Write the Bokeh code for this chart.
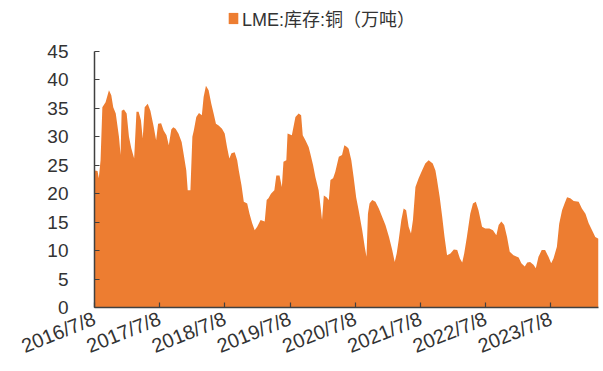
import math
import pandas as pd
from bokeh.plotting import figure
from bokeh.models import Range1d, FixedTicker, Legend, LegendItem, ColumnDataSource
from bokeh.embed import file_html
from bokeh.resources import INLINE

# LME copper inventory (10k tonnes)
dates = [
    "2016-07-08", "2016-07-25", "2016-08-01", "2016-08-11", "2016-08-21", "2016-09-08",
    "2016-09-27", "2016-10-10", "2016-10-21", "2016-11-04", "2016-11-22", "2016-12-01",
    "2016-12-07", "2016-12-20", "2017-01-04", "2017-01-17", "2017-01-30", "2017-02-15",
    "2017-02-28", "2017-03-12", "2017-03-25", "2017-04-04", "2017-04-15", "2017-05-02",
    "2017-05-17", "2017-06-05", "2017-06-18", "2017-06-29", "2017-07-16", "2017-07-30",
    "2017-08-15", "2017-08-28", "2017-09-11", "2017-09-22", "2017-10-05", "2017-10-21",
    "2017-11-08", "2017-11-20", "2017-12-04", "2017-12-12", "2017-12-27", "2018-01-07",
    "2018-01-15", "2018-01-29", "2018-02-13", "2018-03-01", "2018-03-11", "2018-03-24",
    "2018-04-08", "2018-04-23", "2018-05-06", "2018-05-19", "2018-06-03", "2018-06-22",
    "2018-07-07", "2018-07-20", "2018-08-02", "2018-08-14", "2018-09-01", "2018-09-15",
    "2018-09-24", "2018-10-09", "2018-10-22", "2018-11-10", "2018-11-23", "2018-12-08",
    "2018-12-22", "2019-01-05", "2019-01-24", "2019-02-16", "2019-02-27", "2019-03-09",
    "2019-03-23", "2019-04-11", "2019-04-22", "2019-05-10", "2019-05-23", "2019-06-01",
    "2019-06-17", "2019-06-24", "2019-07-18", "2019-08-07", "2019-08-25", "2019-09-08",
    "2019-09-17", "2019-10-02", "2019-10-20", "2019-10-29", "2019-11-14", "2019-11-27",
    "2019-12-15", "2019-12-28", "2020-01-03", "2020-01-13", "2020-01-28", "2020-02-10",
    "2020-02-19", "2020-03-05", "2020-03-17", "2020-04-06", "2020-04-24", "2020-05-07",
    "2020-05-22", "2020-05-31", "2020-06-15", "2020-06-28", "2020-07-12", "2020-07-26",
    "2020-08-15", "2020-08-29", "2020-09-08", "2020-09-16", "2020-09-25", "2020-10-10",
    "2020-10-28", "2020-11-16", "2020-12-05", "2020-12-23", "2021-01-12", "2021-01-30",
    "2021-02-13", "2021-02-24", "2021-03-07", "2021-03-22", "2021-04-04", "2021-04-18",
    "2021-05-02", "2021-05-15", "2021-05-26", "2021-06-09", "2021-06-27", "2021-07-16",
    "2021-08-03", "2021-08-22", "2021-09-14", "2021-09-29", "2021-10-08", "2021-10-23",
    "2021-11-06", "2021-11-19", "2021-12-03", "2021-12-22", "2022-01-10", "2022-01-29",
    "2022-02-13", "2022-02-26", "2022-03-09", "2022-03-24", "2022-04-12", "2022-04-27",
    "2022-05-13", "2022-05-28", "2022-06-17", "2022-07-05", "2022-07-28", "2022-08-17",
    "2022-09-05", "2022-09-18", "2022-10-03", "2022-10-19", "2022-11-04", "2022-11-19",
    "2022-12-10", "2023-01-08", "2023-01-23", "2023-02-11", "2023-02-25", "2023-03-13",
    "2023-04-01", "2023-04-14", "2023-04-29", "2023-05-17", "2023-06-05", "2023-06-24",
    "2023-07-09", "2023-07-22", "2023-08-10", "2023-08-23", "2023-09-08", "2023-09-22",
    "2023-10-06", "2023-10-24", "2023-11-12", "2023-12-10", "2023-12-28", "2024-01-17",
    "2024-02-04", "2024-02-27", "2024-03-12", "2024-03-30",
]
values = [
    24.1, 24.0, 22.7, 25.9, 35.2, 36.1,
    38.2, 37.3, 35.2, 34.1, 30.0, 26.8,
    34.6, 34.8, 34.1, 30.0, 28.0, 26.2,
    34.4, 34.4, 32.9, 29.7, 35.2, 35.8,
    34.6, 31.7, 29.4, 32.3, 32.4, 31.1,
    30.3, 28.5, 31.3, 31.7, 31.4, 30.6,
    29.1, 26.8, 24.1, 20.6, 20.6, 30.0,
    31.1, 33.5, 34.2, 33.8, 37.0, 39.0,
    38.2, 35.8, 34.1, 32.3, 32.0, 31.4,
    30.6, 28.2, 26.2, 27.1, 27.3, 25.9,
    24.1, 21.5, 18.6, 18.3, 16.5, 14.8,
    13.6, 14.2, 15.4, 15.1, 18.9, 19.2,
    20.0, 20.6, 23.2, 23.2, 21.2, 25.6,
    25.9, 30.6, 30.3, 33.5, 34.1, 33.8,
    30.3, 29.4, 28.2, 27.1, 25.0, 22.9,
    20.6, 17.1, 15.4, 19.7, 19.4, 18.9,
    22.4, 22.7, 23.8, 26.5, 26.8, 28.5,
    28.2, 27.9, 25.9, 22.9, 19.4, 17.1,
    13.6, 10.7, 8.9, 16.5, 18.3, 18.9,
    18.6, 17.4, 15.9, 14.5, 12.4, 10.1,
    8.0, 9.5, 11.8, 15.4, 17.4, 17.1,
    14.2, 13.0, 15.4, 21.2, 22.7, 24.1,
    25.3, 25.9, 25.3, 24.1, 22.4, 19.4,
    15.9, 12.4, 9.2, 9.5, 10.2, 10.1,
    8.6, 7.9, 9.5, 12.4, 16.5, 18.3,
    18.6, 17.1, 14.2, 13.9, 13.9, 13.6,
    12.7, 14.5, 15.1, 14.5, 12.4, 9.8,
    9.2, 8.8, 7.8, 7.2, 7.9, 8.0,
    7.5, 6.9, 8.9, 10.1, 10.1, 8.9,
    7.8, 8.6, 10.7, 14.7, 17.1, 18.3,
    19.4, 19.2, 18.7, 18.6, 17.4, 16.5,
    14.8, 13.3, 12.4, 12.1,
]
x_tick_labels = ["2016/7/8", "2017/7/8", "2018/7/8", "2019/7/8",
                 "2020/7/8", "2021/7/8", "2022/7/8", "2023/7/8"]
y_ticks = [0, 5, 10, 15, 20, 25, 30, 35, 40, 45]
y_max = 45
series_name = "LME:库存:铜（万吨）"

ORANGE = "#ED7D31"
AXIS = "#404040"
TEXT = "#333333"
FONT = "'Liberation Sans', 'Noto Sans CJK SC', sans-serif"

# layout: frame spans canvas top to the x axis; the axis itself stops at y_max
FRAME_H = 307
AXIS_TOP = 51
y_end = y_max * FRAME_H / (FRAME_H - AXIS_TOP)

dt = pd.to_datetime(dates)
src = ColumnDataSource(dict(date=dt, value=values))

tick_dt = pd.to_datetime(x_tick_labels, format="%Y/%m/%d")
tick_ms = [float(t.value // 10**6) for t in tick_dt]

p = figure(width=603, height=371, x_axis_type="datetime",
           output_backend="svg", toolbar_location=None,
           x_range=Range1d(dt[0], dt[-1]), y_range=Range1d(0, y_end),
           min_border_left=94, min_border_right=5,
           min_border_top=0, min_border_bottom=371 - FRAME_H)

r = p.varea(x="date", y1=0, y2="value", source=src, fill_color=ORANGE)

p.xgrid.visible = False
p.ygrid.visible = False
p.outline_line_color = None
p.background_fill_color = "white"
p.border_fill_color = "white"

for ax in (p.xaxis[0], p.yaxis[0]):
    ax.axis_line_color = AXIS
    ax.axis_line_width = 1.5
    ax.major_tick_line_color = AXIS
    ax.major_tick_line_width = 1.2
    ax.major_tick_in = 5
    ax.major_tick_out = 0
    ax.minor_tick_line_color = None
    ax.major_label_text_font = FONT
    ax.major_label_text_color = TEXT

p.yaxis.bounds = (0, y_max)
p.yaxis.ticker = FixedTicker(ticks=y_ticks)
p.yaxis.major_label_standoff = 26
p.yaxis.major_label_text_font_size = "19px"

p.xaxis.ticker = FixedTicker(ticks=tick_ms)
p.xaxis.major_label_overrides = {ms: lab for ms, lab in zip(tick_ms, x_tick_labels)}
p.xaxis.major_label_orientation = math.radians(22)
p.xaxis.major_label_standoff = 10
p.xaxis.major_label_text_font_size = "20px"

legend = Legend(items=[LegendItem(label=series_name, renderers=[r])],
                location=(133, FRAME_H - 31), orientation="horizontal",
                border_line_color=None, background_fill_alpha=0,
                padding=0, margin=0, spacing=0,
                glyph_width=12, glyph_height=14, label_standoff=3,
                label_text_font=FONT, label_text_font_size="18px",
                label_text_color=TEXT)
p.add_layout(legend)

open("out.html", "w").write(file_html(p, INLINE))
